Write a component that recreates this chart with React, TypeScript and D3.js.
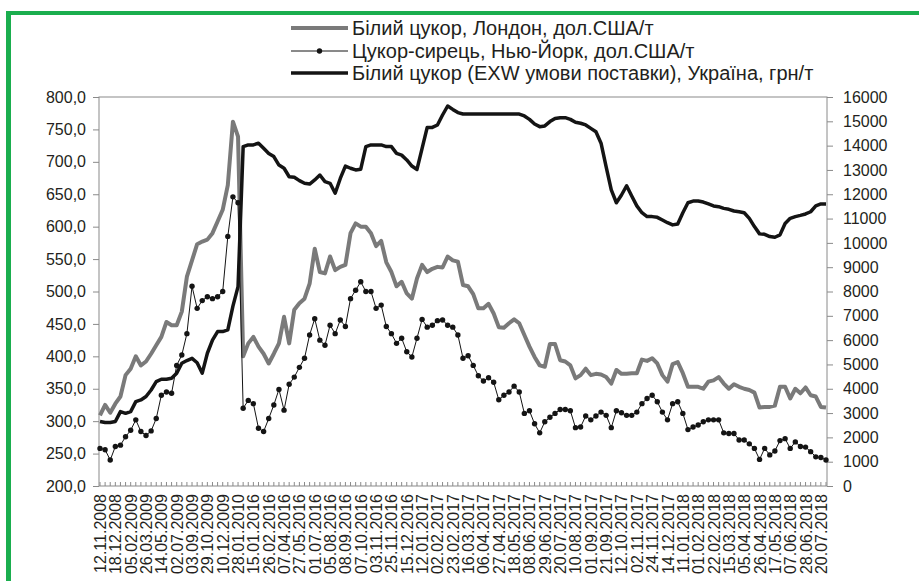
import React, { useEffect, useRef } from 'react';
import * as d3 from 'd3';

// Every third weekly category carries a date label on the x axis.
const tickLabels = [
  '12.11.2008', '18.12.2008', '05.02.2009', '26.03.2009', '14.05.2009', '02.07.2009',
  '03.09.2009', '29.10.2009', '10.12.2009', '28.01.2010', '15.01.2016', '26.02.2016',
  '07.04.2016', '27.05.2016', '01.07.2016', '05.08.2016', '08.09.2016', '07.10.2016',
  '03.11.2016', '25.11.2016', '15.12.2016', '12.01.2017', '02.02.2017', '23.02.2017',
  '16.03.2017', '06.04.2017', '27.04.2017', '18.05.2017', '08.06.2017', '29.06.2017',
  '20.07.2017', '10.08.2017', '01.09.2017', '21.09.2017', '12.10.2017', '02.11.2017',
  '24.11.2017', '14.12.2017', '11.01.2018', '01.02.2018', '22.02.2018', '15.03.2018',
  '05.04.2018', '26.04.2018', '17.05.2018', '07.06.2018', '28.06.2018', '20.07.2018',
];

const seriesNames = [
  'Білий цукор, Лондон, дол.США/т',
  'Цукор-сирець, Нью-Йорк, дол.США/т',
  'Білий цукор (EXW умови поставки), Україна, грн/т',
];

// white sugar, London, USD/t (left axis)
const londonWhite = [
  309, 325, 313, 327, 338, 371, 381, 400, 386, 392,
  404, 417, 430, 453, 448, 448, 469, 523, 548, 573,
  577, 580, 590, 608, 626, 664, 762, 739, 400, 420,
  430, 415, 404, 389, 404, 420, 461, 420, 472, 482,
  489, 512, 566, 530, 528, 554, 533, 538, 541, 590,
  605, 600, 600, 590, 570, 578, 545, 530, 508, 515,
  497, 489, 520, 541, 530, 535, 538, 537, 554, 548,
  546, 510, 508, 496, 474, 474, 481, 466, 445, 444,
  451, 457, 451, 433, 415, 399, 386, 384, 419, 419,
  394, 392, 386, 366, 371, 381, 371, 373, 372, 368,
  358, 379, 373, 373, 374, 374, 395, 393, 397, 389,
  371, 361, 388, 391, 374, 353, 353, 353, 350, 361,
  363, 368, 358, 350, 357, 353, 350, 348, 344, 321,
  322, 322, 324, 353, 353, 335, 350, 343, 352, 340,
  338, 322, 321,
];

// raw sugar, New York, USD/t (left axis)
const nyRaw = [
  258, 256, 240, 261, 263, 276, 286, 302, 284, 278,
  285, 304, 340, 345, 343, 386, 402, 435, 508, 474,
  486, 492, 489, 492, 500, 585, 646, 637, 320, 332,
  327, 289, 284, 304, 325, 349, 317, 357, 368, 383,
  397, 433, 458, 425, 417, 448, 435, 456, 446, 489,
  502, 515, 500, 500, 474, 479, 446, 435, 420, 428,
  407, 399, 428, 457, 445, 448, 455, 456, 448, 445,
  433, 397, 401, 386, 370, 362, 367, 360, 333, 340,
  345, 354, 345, 312, 316, 296, 282, 299, 306, 312,
  318, 318, 316, 290, 291, 308, 302, 308, 314, 309,
  290, 316, 313, 309, 309, 314, 327, 335, 340, 330,
  314, 302, 327, 330, 312, 287, 291, 294, 299, 302,
  302, 302, 282, 281, 281, 271, 271, 265, 258, 241,
  258, 248, 254, 270, 273, 258, 268, 261, 260, 253,
  245, 244, 240,
];

// white sugar EXW, Ukraine, UAH/t (right axis)
const ukraineWhite = [
  2650, 2610, 2610, 2650, 3060, 2990, 3060, 3470, 3540, 3680,
  3950, 4290, 4390, 4390, 4430, 4640, 5050, 5160, 5250, 5070,
  4640, 5460, 6000, 6350, 6350, 6420, 7400, 8200, 13960, 14030,
  14030, 14100, 13890, 13680, 13550, 13200, 13070, 12720, 12700, 12560,
  12450, 12420, 12590, 12790, 12520, 12450, 12040, 12650, 13160, 13070,
  13000, 13030, 13960, 14030, 14030, 14030, 13960, 13960, 13680, 13610,
  13410, 13160, 13020, 13890, 14750, 14750, 14850, 15260, 15630, 15490,
  15360, 15300, 15300, 15300, 15300, 15300, 15300, 15300, 15300, 15300,
  15300, 15300, 15300, 15220, 15080, 14890, 14780, 14810, 14990, 15120,
  15150, 15150, 15080, 14960, 14920, 14850, 14710, 14570, 14100, 13130,
  12180, 11650, 11970, 12350, 11930, 11520, 11240, 11080, 11080, 11050,
  10940, 10830, 10740, 10780, 11240, 11650, 11720, 11720, 11680, 11600,
  11520, 11490, 11420, 11380, 11310, 11280, 11240, 11010, 10670, 10370,
  10350, 10260, 10230, 10330, 10800, 11010, 11080, 11130, 11190, 11280,
  11520, 11600, 11600,
];

const leftTicks = [200, 250, 300, 350, 400, 450, 500, 550, 600, 650, 700, 750, 800];
const rightTicks = [0, 1000, 2000, 3000, 4000, 5000, 6000, 7000, 8000, 9000, 10000, 11000, 12000, 13000, 14000, 15000, 16000];

const FONT = '"Liberation Sans", Arial, sans-serif';
const TEXT = '#231f20';
const AXIS = '#8a8a8a';

const App = () => {
  const svgRef = useRef<SVGSVGElement>(null);

  useEffect(() => {
    const svg = d3.select(svgRef.current);
    svg.selectAll('*').remove();

    const width = 919;
    const height = 581;
    const plot = { left: 99, right: 827, top: 97, bottom: 486 };

    svg.append('rect').attr('width', width).attr('height', height).attr('fill', '#fff');

    // green frame on top and left
    svg.append('rect').attr('x', 6).attr('y', 11).attr('width', width - 6).attr('height', 4).attr('fill', '#1aae4e');
    svg.append('rect').attr('x', 6).attr('y', 11).attr('width', 5).attr('height', height - 11).attr('fill', '#1aae4e');

    const idx = d3.range(ukraineWhite.length);
    const x = d3.scalePoint<number>().domain(idx).range([plot.left + 1, plot.right - 1]);
    const yL = d3.scaleLinear().domain([200, 800]).range([plot.bottom, plot.top]);
    const yR = d3.scaleLinear().domain([0, 16000]).range([plot.bottom, plot.top]);

    // plot frame
    svg.append('rect')
      .attr('x', plot.left).attr('y', plot.top)
      .attr('width', plot.right - plot.left).attr('height', plot.bottom - plot.top)
      .attr('fill', 'none').attr('stroke', AXIS).attr('stroke-width', 1);

    // left axis
    const gl = svg.append('g')
      .attr('transform', `translate(${plot.left},0)`)
      .call(d3.axisLeft(yL).tickValues(leftTicks).tickSize(6).tickSizeOuter(0).tickPadding(7)
        .tickFormat((d) => d3.format('.1f')(d as number).replace('.', ',')));
    gl.select('.domain').remove();
    gl.attr('font-size', 16).attr('font-family', FONT);
    gl.selectAll('line').attr('stroke', AXIS);
    gl.selectAll('text').attr('fill', TEXT);

    // right axis
    const gr = svg.append('g')
      .attr('transform', `translate(${plot.right},0)`)
      .call(d3.axisRight(yR).tickValues(rightTicks).tickSize(6).tickSizeOuter(0).tickPadding(10)
        .tickFormat(d3.format('d')));
    gr.select('.domain').remove();
    gr.attr('font-size', 16).attr('font-family', FONT);
    gr.selectAll('line').attr('stroke', AXIS);
    gr.selectAll('text').attr('fill', TEXT);

    // category ticks (inside, one per week)
    svg.append('g').selectAll('line')
      .data(idx)
      .enter()
      .append('line')
      .attr('x1', (d) => x(d)!).attr('x2', (d) => x(d)!)
      .attr('y1', plot.bottom).attr('y2', plot.bottom - 4)
      .attr('stroke', AXIS).attr('stroke-width', 1);

    // date labels, rotated
    svg.append('g').selectAll('text')
      .data(tickLabels)
      .enter()
      .append('text')
      .attr('transform', (d, i) => `translate(${x(i * 3)! + 6},${plot.bottom + 8}) rotate(-90)`)
      .attr('text-anchor', 'end')
      .attr('font-size', 16)
      .attr('font-family', FONT)
      .attr('fill', TEXT)
      .text((d) => d);

    const lineL = d3.line<number>().x((d, i) => x(i)!).y((d) => yL(d));
    const lineR = d3.line<number>().x((d, i) => x(i)!).y((d) => yR(d));

    svg.append('path').datum(londonWhite)
      .attr('d', lineL).attr('fill', 'none')
      .attr('stroke', '#7a7a7a').attr('stroke-width', 4).attr('stroke-linejoin', 'round');

    svg.append('path').datum(ukraineWhite)
      .attr('d', lineR).attr('fill', 'none')
      .attr('stroke', '#141414').attr('stroke-width', 3.5).attr('stroke-linejoin', 'round');

    svg.append('path').datum(nyRaw)
      .attr('d', lineL).attr('fill', 'none')
      .attr('stroke', '#141414').attr('stroke-width', 1);

    svg.append('g').selectAll('circle')
      .data(nyRaw)
      .enter()
      .append('circle')
      .attr('cx', (d, i) => x(i)!)
      .attr('cy', (d) => yL(d))
      .attr('r', 2.7)
      .attr('fill', '#141414');

    // legend
    const legendY = [28, 51, 73];
    const styles = [
      { stroke: '#7a7a7a', width: 4, marker: false },
      { stroke: '#141414', width: 1, marker: true },
      { stroke: '#141414', width: 3.5, marker: false },
    ];
    const lg = svg.append('g');
    seriesNames.forEach((name, i) => {
      lg.append('line')
        .attr('x1', 291).attr('x2', 348)
        .attr('y1', legendY[i]).attr('y2', legendY[i])
        .attr('stroke', styles[i].stroke).attr('stroke-width', styles[i].width);
      if (styles[i].marker) {
        lg.append('circle').attr('cx', 319.5).attr('cy', legendY[i]).attr('r', 2.7).attr('fill', '#141414');
      }
      lg.append('text')
        .attr('x', 352).attr('y', legendY[i]).attr('dy', '0.35em')
        .attr('font-size', 20).attr('font-family', FONT).attr('fill', TEXT)
        .text(name);
    });
  }, []);

  return (
    <svg
      ref={svgRef}
      width={919}
      height={581}
      style={{ position: 'absolute', left: 0, top: 0, display: 'block' }}
    ></svg>
  );
};

export default App;
